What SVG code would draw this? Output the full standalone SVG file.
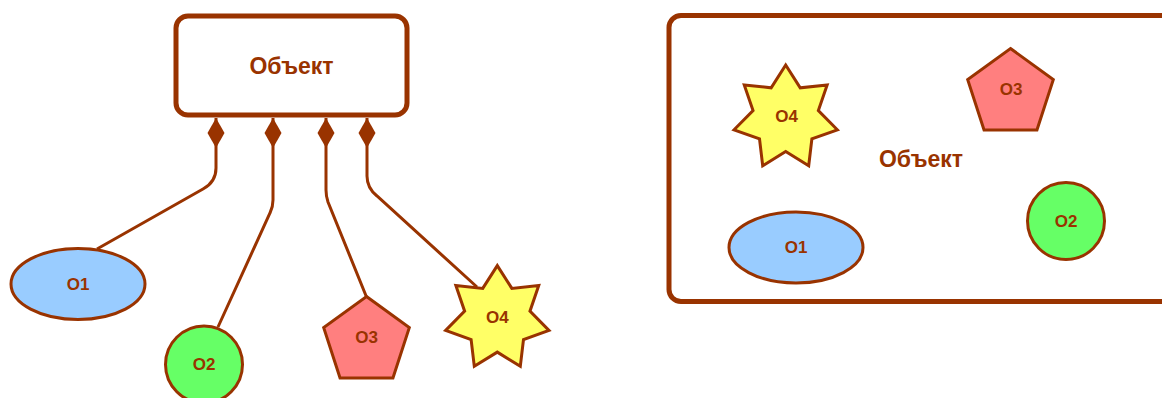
<svg xmlns="http://www.w3.org/2000/svg" xmlns:xlink="http://www.w3.org/1999/xlink" width="1162" height="398" viewBox="0 0 1162 398">
<style>
.box{fill:#fff;stroke:#993300;stroke-width:5}
.shape{stroke:#993300;stroke-width:3;stroke-linejoin:miter}
.o1{fill:#99ccff}.o2{fill:#66ff66}.o3{fill:#ff7f7f}.o4{fill:#ffff66}
.conn{fill:none;stroke:#993300;stroke-width:3;marker-start:url(#diamond)}
text{font-family:"Liberation Sans",Arial,sans-serif;font-weight:bold;fill:#993300;text-anchor:middle;dominant-baseline:central}
.big{font-size:23px}.small{font-size:17px}
</style>
<defs>
<marker id="diamond" markerUnits="userSpaceOnUse" viewBox="0 -9 30 18" refX="0" refY="0" markerWidth="30" markerHeight="18" orient="auto">
<polygon points="0,0 15,-8.5 30,0 15,8.5" fill="#993300"/>
</marker>
<polygon id="star" points="0,-53 14.54,-30.18 41.44,-33.05 32.66,-7.45 51.67,11.79 26.19,20.89 23,47.75 0,33.5 -23,47.75 -26.19,20.89 -51.67,11.79 -32.66,-7.45 -41.44,-33.05 -14.54,-30.18"/>
<polygon id="pent" points="0,-45 42.8,-13.91 26.45,36.41 -26.45,36.41 -42.8,-13.91"/>
</defs>
<g id="connectors">
<path class="conn" d="M216,118 V168 Q216,182 203,189 L97,249"/>
<path class="conn" d="M273,118 V200 Q273,207 270,213 L218,327"/>
<path class="conn" d="M326,118 V190 Q326,196 328,202 L366.5,297"/>
<path class="conn" d="M367,118 V176 Q367,188 377,196 L477,287"/>
</g>
<g id="object-left">
<rect class="box" x="176" y="16" width="231" height="99" rx="12"/>
<text class="big" x="291.5" y="66">Объект</text>
</g>
<g id="o1-left">
<ellipse class="shape o1" cx="78" cy="284" rx="67" ry="35.5"/>
<text class="small" x="78" y="284">O1</text>
</g>
<g id="o2-left">
<circle class="shape o2" cx="204" cy="364.5" r="38.5"/>
<text class="small" x="204" y="364.5">O2</text>
</g>
<g id="o3-left">
<use xlink:href="#pent" class="shape o3" transform="translate(366.5,341.5)"/>
<text class="small" x="366.5" y="337">O3</text>
</g>
<g id="o4-left">
<use xlink:href="#star" class="shape o4" transform="translate(497.3,318.6)"/>
<text class="small" x="497.3" y="317">O4</text>
</g>
<g id="object-right">
<rect class="box" x="669" y="15.5" width="520" height="286" rx="12"/>
<text class="big" x="921" y="159">Объект</text>
</g>
<g id="o4-right">
<use xlink:href="#star" class="shape o4" transform="translate(785.7,118)"/>
<text class="small" x="786.5" y="116">O4</text>
</g>
<g id="o3-right">
<use xlink:href="#pent" class="shape o3" transform="translate(1010.5,93.5)"/>
<text class="small" x="1011" y="89">O3</text>
</g>
<g id="o2-right">
<circle class="shape o2" cx="1066" cy="221" r="38.5"/>
<text class="small" x="1066" y="221">O2</text>
</g>
<g id="o1-right">
<ellipse class="shape o1" cx="796" cy="247.5" rx="67" ry="35.5"/>
<text class="small" x="796" y="247.5">O1</text>
</g>
</svg>
